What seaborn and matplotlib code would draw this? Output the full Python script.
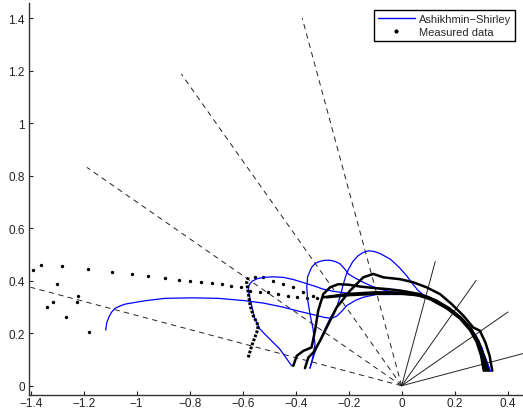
import numpy as np
import matplotlib
matplotlib.use("Agg")
import matplotlib.pyplot as plt
import seaborn as sns
from matplotlib.lines import Line2D
from matplotlib.ticker import FuncFormatter

sns.set_style("white")
plt.rcParams['font.family'] = ['Liberation Sans', 'DejaVu Sans']

# incidence directions (deg from normal) and line lengths
incident_angles = [15, 35, 55, 75]
incident_len = 1.45
reflect_len = 0.49

# shared right-hand part of the model lobes
arc_x = [0.05, 0.1, 0.14, 0.17, 0.2, 0.22, 0.245, 0.26, 0.28, 0.29, 0.302, 0.31, 0.32, 0.325, 0.334]
arc_y = [0.35, 0.338, 0.318, 0.30, 0.278, 0.26, 0.235, 0.215, 0.19, 0.17, 0.145, 0.12, 0.095, 0.08, 0.055]

# Ashikhmin-Shirley model lobes (x, y)
as75_x = [-1.117, -1.113, -1.105, -1.095, -1.082, -1.06, -1.044, -0.968, -0.893, -0.792, -0.692, -0.60, -0.522,
          -0.45, -0.396, -0.33, -0.29, -0.265, -0.245, -0.225, -0.208, -0.175, -0.145, -0.1, -0.05, 0.0] + arc_x
as75_y = [0.212, 0.24, 0.262, 0.28, 0.295, 0.305, 0.311, 0.324, 0.333, 0.335, 0.333, 0.325, 0.315,
          0.30, 0.286, 0.27, 0.26, 0.257, 0.265, 0.285, 0.305, 0.325, 0.337, 0.347, 0.353, 0.355] + arc_y
as55_x = [-0.415, -0.46, -0.50, -0.535, -0.556, -0.566, -0.574, -0.579, -0.575, -0.565, -0.545, -0.522, -0.485,
          -0.447, -0.41, -0.371, -0.33, -0.296, -0.26, -0.2, -0.157, -0.1, -0.05, 0.0] + arc_x
as55_y = [0.076, 0.14, 0.18, 0.216, 0.26, 0.305, 0.34, 0.368, 0.385, 0.398, 0.408, 0.413, 0.415,
          0.413, 0.405, 0.393, 0.38, 0.368, 0.36, 0.352, 0.35, 0.352, 0.355, 0.355] + arc_y
as35_x = [-0.346, -0.335, -0.327, -0.335, -0.346, -0.355, -0.358, -0.355, -0.34, -0.325, -0.308, -0.29, -0.27,
          -0.25, -0.233, -0.215, -0.2, -0.175, -0.145, -0.11, -0.082, -0.04, 0.005] + arc_x
as35_y = [0.067, 0.11, 0.159, 0.22, 0.273, 0.33, 0.375, 0.415, 0.451, 0.467, 0.474, 0.478, 0.478,
          0.473, 0.465, 0.445, 0.425, 0.41, 0.394, 0.378, 0.368, 0.358, 0.352] + arc_y
as15_x = [-0.346, -0.33, -0.31, -0.29, -0.27, -0.245, -0.232, -0.222, -0.212, -0.20, -0.185, -0.165, -0.145,
          -0.125, -0.105, -0.08, -0.044, -0.01, 0.019, 0.04, 0.063, 0.08] + arc_x[1:]
as15_y = [0.067, 0.12, 0.17, 0.215, 0.257, 0.30, 0.34, 0.38, 0.415, 0.445, 0.472, 0.495, 0.508,
          0.514, 0.512, 0.503, 0.483, 0.452, 0.419, 0.39, 0.362, 0.348] + arc_y[1:]

# measured data, sparse dots
dots_x = [-1.39, -1.362, -1.282, -1.183, -1.094, -1.019, -0.956, -0.893, -0.84, -0.798, -0.756, -0.715, -0.678,
          -0.643, -0.608, -0.572, -0.535, -0.503, -0.466, -0.428, -0.396, -0.358, -0.321,
          -1.34, -1.315, -1.30, -1.267, -1.227, -1.22, -1.18,
          -0.554, -0.522, -0.484, -0.447, -0.409, -0.371, -0.334]
dots_y = [0.442, 0.46, 0.457, 0.445, 0.434, 0.426, 0.419, 0.41, 0.403, 0.40, 0.396, 0.39, 0.386,
          0.381, 0.375, 0.362, 0.358, 0.356, 0.349, 0.343, 0.337, 0.333, 0.333,
          0.299, 0.318, 0.387, 0.261, 0.32, 0.341, 0.205,
          0.413, 0.413, 0.40, 0.387, 0.375, 0.358, 0.343]

# measured data, dense runs
m75_x = [-0.283, -0.2, -0.1, 0.0, 0.06, 0.107, 0.17, 0.22, 0.258, 0.283, 0.300, 0.310]
m75_y = [0.337, 0.345, 0.35, 0.35, 0.345, 0.33, 0.295, 0.256, 0.212, 0.167, 0.114, 0.057]
m55a_x = [-0.579, -0.566, -0.547, -0.541, -0.56, -0.572, -0.579, -0.585, -0.579]
m55a_y = [0.108, 0.152, 0.203, 0.229, 0.267, 0.305, 0.356, 0.394, 0.413]
m55b_x = [-0.296, -0.2, -0.1, 0.0, 0.1, 0.17, 0.22, 0.26, 0.29, 0.307, 0.318]
m55b_y = [0.337, 0.35, 0.356, 0.355, 0.338, 0.30, 0.262, 0.22, 0.17, 0.115, 0.057]
m35_x = [-0.409, -0.396, -0.371, -0.34, -0.327, -0.315, -0.296, -0.27, -0.239, -0.20, -0.157, -0.10, -0.05,
         0.0, 0.069, 0.13, 0.18, 0.225, 0.262, 0.29, 0.312, 0.326]
m35_y = [0.076, 0.114, 0.133, 0.146, 0.21, 0.286, 0.349, 0.375, 0.387, 0.385, 0.378, 0.372, 0.368,
         0.362, 0.349, 0.325, 0.295, 0.258, 0.215, 0.16, 0.11, 0.057]
m15_x = [-0.365, -0.352, -0.333, -0.308, -0.283, -0.245, -0.195, -0.145, -0.107, -0.069, -0.006, 0.044, 0.094,
         0.145, 0.189, 0.233, 0.27, 0.295, 0.316, 0.332, 0.342]
m15_y = [0.067, 0.108, 0.127, 0.171, 0.222, 0.299, 0.362, 0.413, 0.426, 0.413, 0.406, 0.394, 0.375,
         0.349, 0.311, 0.267, 0.222, 0.21, 0.165, 0.114, 0.057]

fig = plt.figure(figsize=(5.23, 4.10), dpi=100)
ax = fig.add_axes([29 / 523, 14.3 / 410, 494 / 523, 391.7 / 410])

# incidence (dashed) and mirror (solid) directions
th = np.radians(incident_angles)
for t in th:
    ax.plot([0, -incident_len * np.sin(t)], [0, incident_len * np.cos(t)], color='#222222', lw=0.7,
            dashes=(5.5, 4.5))
    ax.plot([0, reflect_len * np.sin(t)], [0, reflect_len * np.cos(t)], color='#222222', lw=0.7)

blue = '#0000ff'
for xs, ys in [(as75_x, as75_y), (as55_x, as55_y), (as35_x, as35_y), (as15_x, as15_y)]:
    sns.lineplot(x=xs, y=ys, sort=False, estimator=None, color=blue, lw=0.9, ax=ax)

for xs, ys in [(m75_x, m75_y), (m55b_x, m55b_y), (m35_x, m35_y), (m15_x, m15_y)]:
    sns.lineplot(x=xs, y=ys, sort=False, estimator=None, color='black', lw=1.8, ax=ax)
sns.lineplot(x=m55a_x, y=m55a_y, sort=False, estimator=None, color='black', lw=2.2,
             linestyle=(0, (0.9, 0.5)), ax=ax)
sns.scatterplot(x=dots_x, y=dots_y, color='black', s=6, linewidth=0, ax=ax)

ax.set_xlim(-1.4065, 0.458)
ax.set_ylim(-0.034, 1.458)
ax.set_xticks([-1.4, -1.2, -1.0, -0.8, -0.6, -0.4, -0.2, 0, 0.2, 0.4])
ax.set_yticks([0, 0.2, 0.4, 0.6, 0.8, 1.0, 1.2, 1.4])
fmt = FuncFormatter(lambda v, p: ('%g' % round(v, 2)).replace('-', '\u2212'))
ax.xaxis.set_major_formatter(fmt)
ax.yaxis.set_major_formatter(fmt)
ax.tick_params(direction='in', length=3, width=0.8, labelsize=8.5, colors='#222222', pad=3,
               left=True, bottom=True)
ax.tick_params(axis='x', pad=1.5)
for s in ['top', 'right']:
    ax.spines[s].set_visible(False)
for s in ['left', 'bottom']:
    ax.spines[s].set_color('#333333')
    ax.spines[s].set_linewidth(1.0)

handles = [Line2D([], [], color=blue, lw=1.0),
           Line2D([], [], color='black', marker='.', markersize=4, lw=0)]
leg = ax.legend(handles, ['Ashikhmin\u2212Shirley', 'Measured data'], loc='upper right',
                bbox_to_anchor=(0.984, 0.982), borderaxespad=0, fontsize=8, fancybox=False,
                edgecolor='black', framealpha=1, handlelength=3.3, borderpad=0.35,
                labelspacing=0.25, handletextpad=0.4)
leg.get_frame().set_linewidth(1.0)

fig.savefig('out.png', dpi=100)
